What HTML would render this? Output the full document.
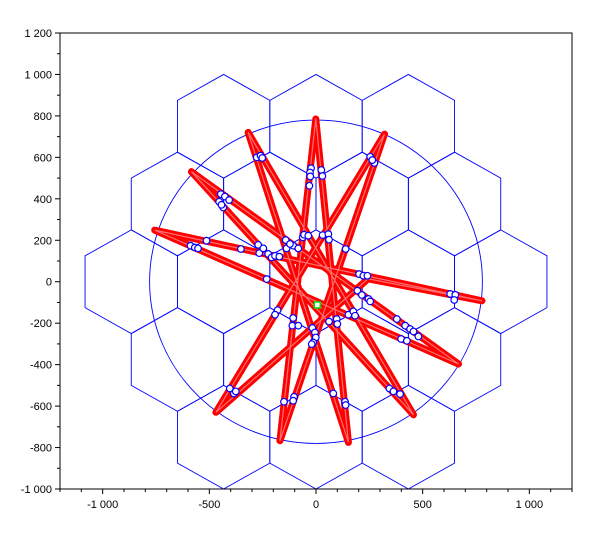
<!DOCTYPE html>
<html><head><meta charset="utf-8"><style>
html,body{margin:0;padding:0;background:#fff;}
svg{display:block;font-family:"Liberation Sans",sans-serif;}
</style></head><body>
<svg id="chart" width="610" height="538" viewBox="0 0 610 538" xmlns="http://www.w3.org/2000/svg">
<rect x="0" y="0" width="610" height="538" fill="#fff"/>
<g id="grid"></g>
<g id="ring"></g>
<g id="star"></g>
<g id="marks"></g>
<g id="axes"></g>
</svg>
<script>
const xTicks = [-1000, -500, 0, 500, 1000];
const xTickLabels = ["-1 000", "-500", "0", "500", "1 000"];
const yTicks = [-1000, -800, -600, -400, -200, 0, 200, 400, 600, 800, 1000, 1200];
const yTickLabels = ["-1 000", "-800", "-600", "-400", "-200", "0", "200", "400", "600", "800", "1 000", "1 200"];
const hexCentersX = [0, 433, -433, 866, -866, 216.5, -216.5, 649.5, -649.5, 216.5, -216.5, 649.5, -649.5, 0, 433, -433, 0, 433, -433];
const hexCentersY = [0, 0, 0, 0, 0, 375, 375, 375, 375, -375, -375, -375, -375, 750, 750, 750, -750, -750, -750];
const hexRadius = 250;
const circleRadius = 780;
const pathX = [-1, 152, -318, 457, -584, 668, -756, 778, 244, -469, 321, -169, -1];
const pathY = [785, -775, 720, -642, 531, -397, 249, -92, 14, -630, 712, -767, 785];
const markerX = [-278,-260,-252,-23,-28,-27,-31,25,30,254,274,264,-446,-427,-407,-454,-435,-443,-513,-588,-568,-553,-352,-271,-266,-247,-224,-208,-192,-172,-142,-138,-107,-83,-122,-62,-56,-36,31,58,61,139,202,222,241,629,653,648,-231,194,215,246,254,379,418,441,457,480,399,426,152,175,183,97,100,61,-180,-192,-107,-111,-83,-17,-5,-1,-13,-20,-404,-385,-376,-150,-103,-107,81,136,139,344,363,394];
const markerY = [600,608,597,548,527,508,463,539,510,603,573,587,423,411,394,386,358,371,198,174,165,161,158,178,138,161,134,117,125,121,201,161,174,161,182,214,227,222,225,230,203,158,37,29,29,-59,-63,-88,13,-43,-64,-83,-95,-180,-212,-228,-240,-264,-276,-285,-159,-143,-164,-180,-204,-192,-137,-159,-175,-212,-212,-223,-245,-269,-293,-301,-515,-539,-529,-579,-555,-574,-539,-579,-595,-515,-529,-542];
const baseX = [6];
const baseY = [-112];

const L=60,R=572,T=33,B=489, xMin=-1200,xMax=1200,yMin=-1000,yMax=1200;
const sx=v=>L+(v-xMin)/(xMax-xMin)*(R-L);
const sy=v=>B-(v-yMin)/(yMax-yMin)*(B-T);
const NS="http://www.w3.org/2000/svg";
function mk(tag,parent,attrs){const e=document.createElementNS(NS,tag);for(const k in attrs)e.setAttribute(k,attrs[k]);parent.appendChild(e);return e;}

const grid=document.getElementById('grid');
for(let i=0;i<hexCentersX.length;i++){
  let pts=[];
  for(let k=0;k<6;k++){const a=k*Math.PI/3;pts.push(sx(hexCentersX[i]+hexRadius*Math.sin(a)).toFixed(2)+","+sy(hexCentersY[i]+hexRadius*Math.cos(a)).toFixed(2));}
  const p=mk('polygon',grid,{points:pts.join(' '),fill:'none',stroke:'#0000ff','stroke-width':0.9});
  
  
}
const ring=document.getElementById('ring');
const c=mk('ellipse',ring,{cx:sx(0),cy:sy(0),rx:sx(circleRadius)-sx(0),ry:sy(0)-sy(circleRadius),fill:'none',stroke:'#0000ff','stroke-width':0.9});



const star=document.getElementById('star');
let d='';
for(let i=0;i<pathX.length;i++){d+=(i?'L':'M')+sx(pathX[i]).toFixed(2)+' '+sy(pathY[i]).toFixed(2);}
const p1=mk('path',star,{d:d,fill:'none',stroke:'#ff0000','stroke-width':7,'stroke-linecap':'round','stroke-linejoin':'round'});


const p2=mk('path',star,{d:d,fill:'none',stroke:'#ff7070','stroke-width':1.2,'stroke-linecap':'round'});



const marks=document.getElementById('marks');
for(let i=0;i<markerX.length;i++){
  const m=mk('circle',marks,{cx:sx(markerX[i]),cy:sy(markerY[i]),r:3.3,fill:'#fff',stroke:'#0000ff','stroke-width':1.2});
  
  
}
for(let i=0;i<baseX.length;i++){
  const b=mk('rect',marks,{x:sx(baseX[i])-3,y:sy(baseY[i])-3,width:6,height:6,fill:'#fff',stroke:'#00dd00','stroke-width':1.5});
  
  
}

const axes=document.getElementById('axes');
const fr=mk('rect',axes,{x:L,y:T,width:R-L,height:B-T,fill:'none',stroke:'#000','stroke-width':1});


for(let v=-1200;v<=1200;v+=100){
  const major=(v%500===0);
  const t=mk('line',axes,{x1:sx(v),x2:sx(v),y1:B,y2:B+(major?5:3),stroke:'#000','stroke-width':1});
  
  
}
for(let v=-1000;v<=1200;v+=100){
  const major=(v%200===0);
  const t=mk('line',axes,{x1:L-(major?5:3),x2:L,y1:sy(v),y2:sy(v),stroke:'#000','stroke-width':1});
  
  
}
for(let i=0;i<xTicks.length;i++){
  const t=mk('text',axes,{x:sx(xTicks[i]),y:B+19,'text-anchor':'middle','font-size':11,fill:'#000'});
  t.textContent=xTickLabels[i];
  
  
}
for(let i=0;i<yTicks.length;i++){
  const t=mk('text',axes,{x:L-8,y:sy(yTicks[i])+4,'text-anchor':'end','font-size':11,fill:'#000'});
  t.textContent=yTickLabels[i];
  
  
}
</script>
</body></html>
